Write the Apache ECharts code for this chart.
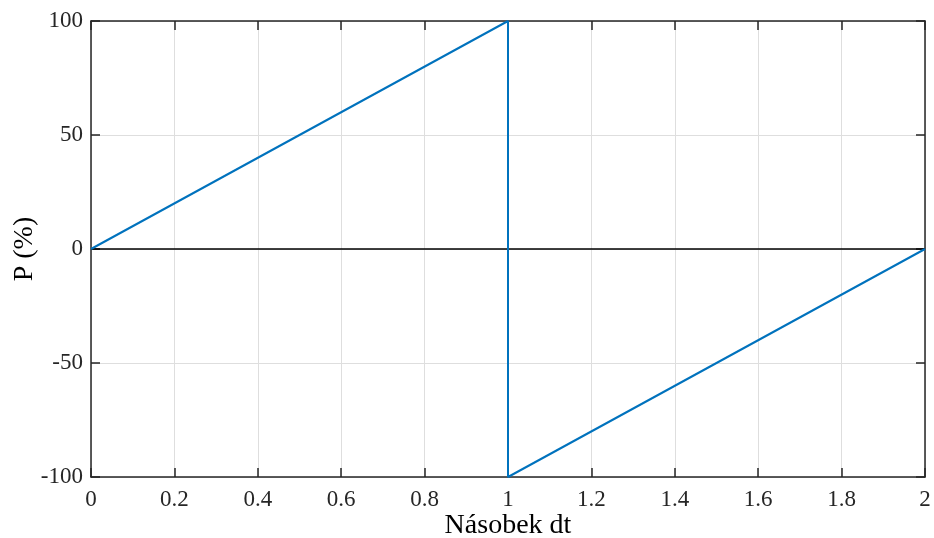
<!DOCTYPE html>
<html><head><meta charset="utf-8">
<script src="https://cdn.jsdelivr.net/npm/echarts@6/dist/echarts.min.js"></script>
<style>html,body{margin:0;padding:0;background:#fff}#c{width:934px;height:538px}</style>
</head><body><div id="c"></div>
<script>
const xValues = [0, 1, 1, 2];
const pValues = [0, 100, -100, 0];
const zeroX = [0, 2];
const zeroY = [0, 0];
const xTicks = [0, 0.2, 0.4, 0.6, 0.8, 1, 1.2, 1.4, 1.6, 1.8, 2];
const yTicks = [-100, -50, 0, 50, 100];

const font = 'Liberation Serif';
const axisCol = '#262626';
const chart = echarts.init(document.getElementById('c'));
const baseAxisLine = {show: true, onZero: false, lineStyle: {color: axisCol, width: 1.5}};
const tick = {show: true, inside: true, length: 9, lineStyle: {color: axisCol, width: 1.5}};
chart.setOption({
  animation: false,
  grid: {left: 91, right: 9, top: 21, bottom: 61, containLabel: false, outerBoundsMode: 'none'},
  xAxis: [{
    type: 'value', min: 0, max: 2, interval: 0.2, position: 'bottom',
    name: 'Násobek dt', nameLocation: 'middle', nameGap: 35, nameMoveOverlap: false,
    nameTextStyle: {fontFamily: font, fontSize: 28, color: '#000'},
    axisLine: baseAxisLine, axisTick: tick,
    axisLabel: {fontFamily: font, fontSize: 23, color: '#262626', margin: 11,
      formatter: v => String(Math.round(v * 10) / 10)},
    splitLine: {show: true, lineStyle: {color: '#dedede', width: 1}}
  }, {
    type: 'value', min: 0, max: 2, interval: 0.2, position: 'top',
    axisLine: baseAxisLine, axisTick: tick, axisLabel: {show: false}, splitLine: {show: false}
  }],
  yAxis: [{
    type: 'value', min: -100, max: 100, interval: 50, position: 'left',
    name: 'P (%)', nameLocation: 'middle', nameGap: 52, nameRotate: 90, nameMoveOverlap: false,
    nameTextStyle: {fontFamily: font, fontSize: 28, color: '#000'},
    axisLine: baseAxisLine, axisTick: tick,
    axisLabel: {fontFamily: font, fontSize: 23, color: '#262626', margin: 8},
    splitLine: {show: true, lineStyle: {color: '#dedede', width: 1}}
  }, {
    type: 'value', min: -100, max: 100, interval: 50, position: 'right',
    axisLine: baseAxisLine, axisTick: tick, axisLabel: {show: false}, splitLine: {show: false}
  }],
  series: [{
    type: 'line', data: zeroX.map((x, i) => [x, zeroY[i]]),
    symbol: 'none', lineStyle: {color: '#000', width: 1.5}, z: 1
  }, {
    type: 'line', data: xValues.map((x, i) => [x, pValues[i]]),
    symbol: 'none', lineStyle: {color: '#0072BD', width: 2}, z: 2
  }]
});
</script></body></html>
